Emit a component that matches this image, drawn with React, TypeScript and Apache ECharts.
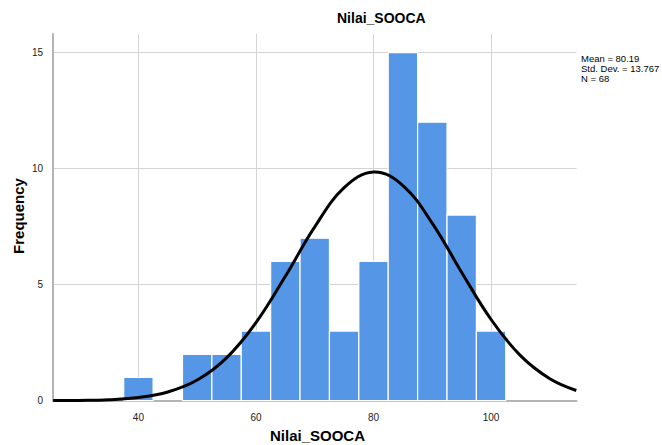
import React, { useEffect, useRef } from "react";
import * as echarts from "echarts";

const binStarts = [37.5, 47.5, 52.5, 57.5, 62.5, 67.5, 72.5, 77.5, 82.5, 87.5, 92.5, 97.5];
const binWidth = 5;
const counts = [1, 2, 2, 3, 6, 7, 3, 6, 15, 12, 8, 3];
const curveX = [25.5, 30, 35, 40, 45, 50, 55, 60, 65, 70, 75, 80, 80.19, 85, 90, 95, 100, 105, 110, 114.5];
const curveY = [0.004, 0.013, 0.045, 0.139, 0.376, 0.89, 1.847, 3.362, 5.361, 7.492, 9.177, 9.852, 9.853, 9.27, 7.644, 5.525, 3.499, 1.942, 0.945, 0.441];
const xTicks = [40, 60, 80, 100];
const yTicks = [0, 5, 10, 15];
const statsLines = ["Mean = 80.19", "Std. Dev. = 13.767", "N = 68"];
const titleText = "Nilai_SOOCA";
const xName = "Nilai_SOOCA";
const yName = "Frequency";

export default function App() {
  const ref = useRef<HTMLDivElement>(null);
  useEffect(() => {
    document.body.style.margin = "0";
    const chart = echarts.init(ref.current!, null, { renderer: "svg" });
    const font = "Liberation Sans, Arial, sans-serif";
    chart.setOption({
      animation: false,
      backgroundColor: "#ffffff",
      grid: { left: 53, right: 85.5, top: 34, bottom: 44.3 },
      xAxis: {
        type: "value",
        min: 25.47,
        max: 114.53,
        axisLine: { show: true, lineStyle: { color: "#b4b4b4", width: 2 } },
        axisTick: { show: false, customValues: xTicks },
        axisLabel: { customValues: xTicks, color: "#222", fontSize: 10, fontFamily: font, margin: 12 },
        splitLine: { show: true, lineStyle: { color: "#d4d4d4", width: 1 } },
      },
      yAxis: {
        type: "value",
        min: 0,
        max: 15.8,
        axisLine: { show: true, lineStyle: { color: "#b4b4b4", width: 2 } },
        axisTick: { show: false, customValues: yTicks },
        axisLabel: { customValues: yTicks, color: "#222", fontSize: 10, fontFamily: font, margin: 10 },
        splitLine: { show: true, lineStyle: { color: "#d4d4d4", width: 1 } },
      },
      graphic: [
        { type: "text", left: 337, top: 11, style: { text: titleText, font: `bold 14px ${font}`, fill: "#000" } },
        { type: "text", left: 270, top: 428, style: { text: xName, font: `bold 15px ${font}`, fill: "#000" } },
        { type: "text", x: 18, y: 216, rotation: Math.PI / 2, style: { text: yName, font: `bold 15px ${font}`, fill: "#000", align: "center", verticalAlign: "middle" } },
        ...statsLines.map((t, i) => ({
          type: "text",
          left: 581,
          top: 53 + i * 10.3,
          style: { text: t, font: `9.5px ${font}`, fill: "#000" },
        })),
      ],
      series: [
        {
          type: "custom",
          renderItem: (params: any, api: any) => {
            const s = api.value(0);
            const e = api.value(1);
            const c = api.value(2);
            const p0 = api.coord([s, 0]);
            const p1 = api.coord([e, c]);
            return {
              type: "rect",
              shape: { x: p0[0], y: p1[1], width: p1[0] - p0[0], height: p0[1] - p1[1] },
              style: { fill: "#5596e6", stroke: "#ffffff", lineWidth: 1.2 },
            };
          },
          encode: { x: [0, 1], y: 2 },
          data: binStarts.map((s, i) => [s, s + binWidth, counts[i]]),
          z: 2,
        },
        {
          type: "line",
          data: curveX.map((x, i) => [x, curveY[i]]),
          smooth: 0.4,
          showSymbol: false,
          symbol: "none",
          lineStyle: { color: "#000", width: 3 },
          z: 3,
        },
      ],
    });
    return () => chart.dispose();
  }, []);
  return <div ref={ref} style={{ width: 662, height: 445 }} />;
}
